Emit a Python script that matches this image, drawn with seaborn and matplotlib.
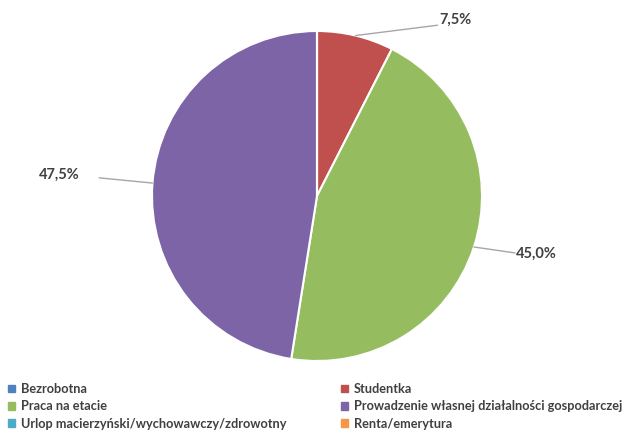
import matplotlib
matplotlib.use("Agg")
import matplotlib.pyplot as plt
import matplotlib.patches as mpatches
import numpy as np
import seaborn as sns

categories = ["Bezrobotna", "Studentka", "Praca na etacie",
              "Prowadzenie własnej działalności gospodarczej",
              "Urlop macierzyński/wychowawczy/zdrowotny", "Renta/emerytura"]
shares = [0.0, 7.5, 45.0, 47.5, 0.0, 0.0]
colors = ["#4F81BD", "#C0504D", "#95BD5F", "#7D64A6", "#4BACC6", "#F79646"]

# where the percentage labels sit (data units, pie radius = 1)
label_text_pos = {1: (0.84, 1.07), 2: (1.33, -0.35), 3: (-1.56, 0.13)}
label_line_end = {1: (0.73, 1.035), 2: (1.20, -0.345), 3: (-1.32, 0.11)}

sns.set_theme(style="white")
plt.rcParams["font.family"] = ["Lato", "DejaVu Sans"]

fig = plt.figure(figsize=(6.3, 4.36), dpi=100)
ax = fig.add_axes([0, 0, 1, 1])

wedges, _ = ax.pie(shares, colors=colors, startangle=90, counterclock=False,
                   radius=1, wedgeprops=dict(edgecolor="white", linewidth=1.5))

ax.set_xlim(-317 / 165, (630 - 317) / 165)
ax.set_ylim(-(436 - 196) / 165, 196 / 165)
ax.set_aspect("equal")
ax.axis("off")

for i, w in enumerate(wedges):
    if shares[i] == 0:
        continue
    mid = np.deg2rad((w.theta1 + w.theta2) / 2)
    edge = (np.cos(mid), np.sin(mid))
    lx, ly = label_line_end[i]
    ax.plot([edge[0], lx], [edge[1], ly], color="#A6A6A6", lw=1)
    tx, ty = label_text_pos[i]
    ax.text(tx, ty, f"{shares[i]:.1f}%".replace(".", ","), ha="center", va="center",
            fontsize=10.5, fontweight="bold", color="#404040")

handles = [mpatches.Patch(color=c) for c in colors]
left_idx = [0, 2, 4]
right_idx = [1, 3, 5]
common = dict(loc="upper left", frameon=False, handlelength=0.55,
              handleheight=0.55, handletextpad=0.45, labelspacing=0.42,
              labelcolor="#404040", borderaxespad=0, borderpad=0,
              prop=dict(family=["Lato", "DejaVu Sans"], weight="bold", size=9.2))
leg1 = fig.legend([handles[i] for i in left_idx], [categories[i] for i in left_idx],
                  bbox_to_anchor=(8 / 630, 1 - 383 / 436), **common)
leg2 = fig.legend([handles[i] for i in right_idx], [categories[i] for i in right_idx],
                  bbox_to_anchor=(341 / 630, 1 - 383 / 436), **common)

fig.savefig("out.png", dpi=100, facecolor="white")
